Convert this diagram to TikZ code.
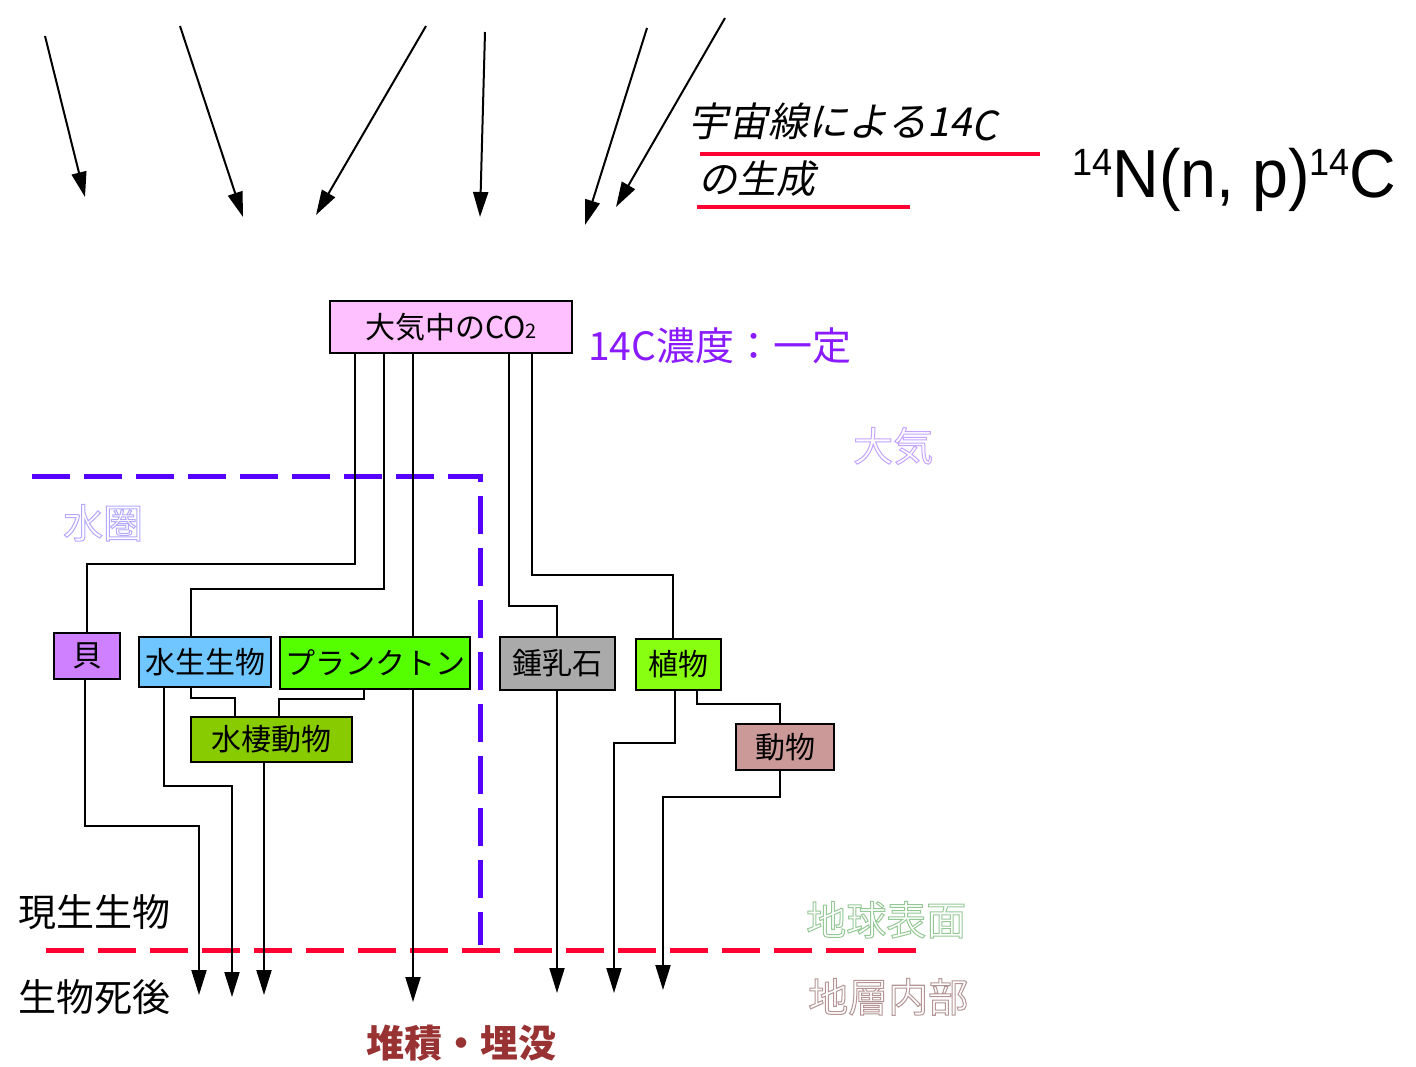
\documentclass[tikz,border=0pt]{standalone}
\usepackage{fontspec}
\setmainfont{Noto Sans CJK JP}
\newfontfamily\slantjp{Noto Sans CJK JP}[FakeSlant=0.2]
\newfontfamily\reacfont{Liberation Sans}[FakeStretch=0.95]
\usetikzlibrary{arrows.meta,positioning}
\definecolor{CoPink}{HTML}{FFC0FF}
\definecolor{ShellViolet}{HTML}{CF80FF}
\definecolor{AquaBlue}{HTML}{70C6FF}
\definecolor{PlankGreen}{HTML}{55FF00}
\definecolor{WaterGreen}{HTML}{88CC00}
\definecolor{StoneGray}{HTML}{AAAAAA}
\definecolor{PlantGreen}{HTML}{88FF11}
\definecolor{AnimalRose}{HTML}{CC9999}
\definecolor{BorderRed}{HTML}{FF0033}
\definecolor{SeaBlue}{HTML}{5500FF}
\definecolor{ConcPurple}{HTML}{8A1AFF}
\definecolor{BuryRed}{HTML}{993333}
\definecolor{AirLilac}{HTML}{C4A4FF}
\definecolor{SeaLilac}{HTML}{B4A8FF}
\definecolor{SurfGreen}{HTML}{94C894}
\definecolor{LayerRose}{HTML}{B49494}
% hollow (outlined) glyphs
\newcommand{\hollow}[1]{\special{pdf:literal direct 1 w 1 Tr}#1\special{pdf:literal direct 0 Tr}}

\begin{document}
\begin{tikzpicture}[x=1pt,y=-1pt,
box/.style={draw=black,line width=2pt,inner sep=0pt,font=\fontsize{30}{30}\selectfont},
link/.style={line width=2pt,draw=black},
drop/.style={link,-{Triangle[length=25pt,width=15pt]}},
ray/.style={line width=2pt,-{Triangle[length=25pt,width=15pt]}},
lbl/.style={inner sep=0pt,anchor=base west,font=\fontsize{38}{38}\selectfont},
ghost/.style={lbl,font=\fontsize{40}{40}\selectfont},
divider/.style={line width=5pt,dash pattern=on 38pt off 14pt}]
\fill[white] (0,0) rectangle (1416,1066);
\useasboundingbox (0,0) rectangle (1416,1066);

% cosmic rays
\foreach \n/\sx/\sy/\ex/\ey in {1/45/36/85/197,2/180/26/243/217,3/426/26/316/215,
  4/485/32/480/217,5/647/28/585/225,6/725/18/616/207}{
  \coordinate (ray\n a) at (\sx,\sy);
  \coordinate (ray\n b) at (\ex,\ey);
  \draw[ray] (ray\n a) -- (ray\n b);
}

\node[lbl,font=\slantjp\fontsize{40}{40}\selectfont] (title) at (688,136) {宇宙線による14\raisebox{-4pt}{C}};
\node[lbl,font=\slantjp\fontsize{39}{39}\selectfont] (title2) at (698,193) {の生成};
\draw[line width=4pt,BorderRed] (700,154) -- (1040,154);
\draw[line width=4pt,BorderRed] (697,207) -- (910,207);
\node[lbl,font=\reacfont\fontsize{68}{68}\selectfont] (reac) at (1072,197)
  {\raisebox{22pt}{\fontsize{38}{38}\selectfont 14}N(n, p)\raisebox{22pt}{\fontsize{38}{38}\selectfont 14}C};

% boxes
\node[box,minimum width=242pt,minimum height=52pt,fill=CoPink] (co2) at (451,327) {大気中のCO{\fontsize{20}{20}\selectfont 2}};
\node[lbl,font=\fontsize{39}{39}\selectfont,text=ConcPurple] (conc) at (588,360) {14C濃度：一定};
\node[box,minimum width=66pt,minimum height=46pt,fill=ShellViolet] (kai) at (87,656) {貝};
\node[box,minimum width=132pt,minimum height=50pt,fill=AquaBlue] (suisei) at (205,662) {水生生物};
\node[box,minimum width=190pt,minimum height=52pt,fill=PlankGreen] (plankton) at (375,663) {プランクトン};
\node[box,minimum width=161pt,minimum height=45pt,fill=WaterGreen] (water) at (271,739.5) {水棲動物};
\node[box,minimum width=115pt,minimum height=53pt,fill=StoneGray] (shonyu) at (557,663.5) {鍾乳石};
\node[box,minimum width=85pt,minimum height=51pt,fill=PlantGreen] (shoku) at (678,664.5) {植物};
\node[box,minimum width=98pt,minimum height=46pt,fill=AnimalRose] (dobutsu) at (785,747) {動物};

% region borders
\draw[divider,SeaBlue] (32,476) -- (480,476) -- (480,945);
\draw[divider,BorderRed] (46,950) -- (920,950);

\node[ghost,text=AirLilac] (air) at (853,461) {\hollow{大気}};
\node[ghost,text=SeaLilac] (sea) at (63,538) {\hollow{水圏}};
\node[ghost,text=SurfGreen] (surf) at (806,935) {\hollow{地球表面}};
\node[ghost,text=LayerRose] (layer) at (808,1012) {\hollow{地層内部}};
\node[lbl] (living) at (18,926) {現生生物};
\node[lbl] (dead) at (18,1011) {生物死後};
\node[lbl,text=BuryRed,font=\bfseries\fontsize{38}{38}\selectfont] (bury) at (366,1057) {堆積・埋没};

% carbon paths
\draw[link] ([xshift=-96pt]co2.south) -- ++(0,210) -| (kai.north);
\draw[link] ([xshift=-67pt]co2.south) -- ++(0,235) -| ([xshift=-14pt]suisei.north);
\draw[link] ([xshift=-38pt]co2.south) -- ([xshift=38pt]plankton.north);
\draw[link] ([xshift=58pt]co2.south) -- ++(0,252) -| (shonyu.north);
\draw[link] ([xshift=81pt]co2.south) -- ++(0,221) -| ([xshift=-5pt]shoku.north);
\draw[link] ([xshift=-14pt]suisei.south) -- ++(0,10) -| ([xshift=-36pt]water.north);
\draw[link] ([xshift=-11pt]plankton.south) -- ++(0,9) -| ([xshift=8pt]water.north);
\draw[link] ([xshift=19pt]shoku.south) -- ++(0,13) -| ([xshift=-5pt]dobutsu.north);

% burial
\coordinate (t1) at (199,995);
\coordinate (t2) at (232,997);
\coordinate (t3) at (264,995);
\coordinate (t4) at (413,1002);
\coordinate (t5) at (557,993);
\coordinate (t6) at (614,993);
\coordinate (t7) at (663,990);
\draw[drop] ([xshift=-2pt]kai.south) -- ++(0,146) -| (t1);
\draw[drop] ([xshift=-41pt]suisei.south) -- ++(0,98) -| (t2);
\draw[drop] ([xshift=-7pt]water.south) -- (t3);
\draw[drop] ([xshift=38pt]plankton.south) -- (t4);
\draw[drop] (shonyu.south) -- (t5);
\draw[drop] ([xshift=-3pt]shoku.south) -- ++(0,52) -| (t6);
\draw[drop] ([xshift=-5pt]dobutsu.south) -- ++(0,26) -| (t7);
\end{tikzpicture}
\end{document}
